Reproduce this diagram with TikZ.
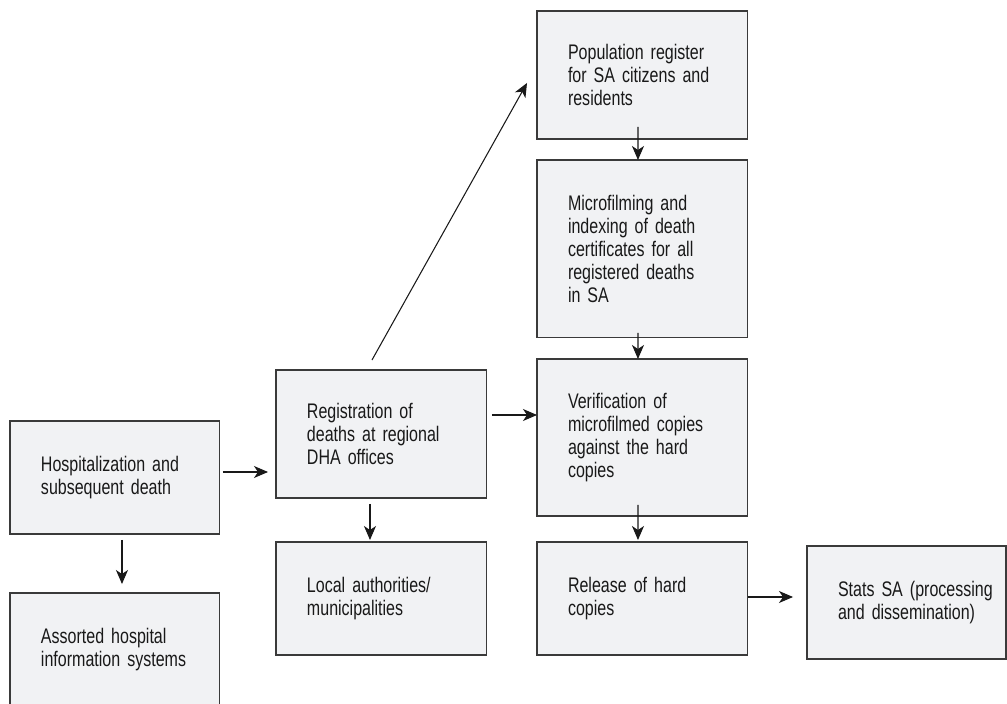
\documentclass[tikz,border=0pt]{standalone}
\usepackage{fontspec}
\setmainfont{Liberation Sans}[FakeStretch=0.76]
\usepackage{tikz}
\usetikzlibrary{arrows.meta}
\definecolor{boxfill}{HTML}{F1F2F4}
\definecolor{boxline}{HTML}{3A3A3A}
\tikzstyle{Stage}=[anchor=north west, shape=rectangle, fill=boxfill, draw=boxline, line width=0.6pt, inner xsep=0.62cm, inner ysep=0pt, outer sep=0pt, text width=2.98cm, align=left, minimum height=2.26cm, text=black!90, font=\fontsize{12pt}{13pt}\selectfont]
\tikzstyle{arrow}=[line width=0.6pt, draw=black!90, -{Stealth[length=0.28cm, width=0.24cm, inset=0.08cm]}]
\pgfdeclarelayer{nodelayer}
\pgfdeclarelayer{edgelayer}
\pgfsetlayers{nodelayer, edgelayer, main}

\begin{document}
\begin{tikzpicture}[x=0.02cm, y=-0.02cm]
	\useasboundingbox (0,0) rectangle (1007,703);
	\begin{pgfonlayer}{nodelayer}
		\node [style=Stage, text width=2.96cm] (hospital) at (10, 421) {Hospitalization and\\subsequent death};
		\node [style=Stage, text width=2.96cm] (assorted) at (10, 593) {Assorted hospital\\information systems};
		% regional offices
		\node [style=Stage, minimum height=2.56cm] (registration) at (276, 370) {Registration of\\deaths at regional\\DHA offices};
		\node [style=Stage] (local) at (276, 542) {Local authorities/\\municipalities};
		% head office
		\node [style=Stage, minimum height=2.56cm] (population) at (537, 11) {Population register\\for SA citizens and\\residents};
		\node [style=Stage, minimum height=3.56cm] (microfilm) at (537, 160) {Microfilming and\\indexing of death\\certificates for all\\registered deaths\\in SA};
		\node [style=Stage, minimum height=3.14cm] (verification) at (537, 359) {Verification of\\microfilmed copies\\against the hard\\copies};
		\node [style=Stage] (release) at (537, 542) {Release of hard\\copies};
		\node [style=Stage, text width=2.74cm] (stats) at (807, 546) {\mbox{Stats SA (processing}\\\mbox{and dissemination)}};
	\end{pgfonlayer}
	\begin{pgfonlayer}{edgelayer}
		\draw [style=arrow, shorten <=0.12cm, shorten >=0.18cm] ([xshift=0.14cm]hospital.south) to ([xshift=0.14cm]assorted.north);
		\draw [style=arrow, shorten <=0.06cm, shorten >=0.16cm] ([yshift=0.11cm]hospital.east) to ([yshift=0.11cm]hospital.east -| registration.west);
		\draw [style=arrow, shorten <=0.12cm, shorten >=0.04cm] ([xshift=-0.23cm]registration.south) to ([xshift=-0.23cm]local.north);
		\draw [style=arrow, shorten <=0.1cm] ([yshift=0.38cm]registration.east) to ([yshift=0.38cm]registration.east -| verification.west);
		\draw [style=arrow] ([shift={(-9.5,-10)}]registration.north) to ([shift={(-10,8)}]population.west);
		% down the chain
		\draw [style=arrow] ([shift={(-4.5,-12)}]population.south) to ([xshift=-0.09cm]microfilm.north);
		\draw [style=arrow] ([shift={(-4.5,-5)}]microfilm.south) to ([xshift=-0.09cm]verification.north);
		\draw [style=arrow, shorten >=0.04cm] ([shift={(-4.5,-11)}]verification.south) to ([xshift=-0.09cm]release.north);
		\draw [style=arrow, shorten >=0.28cm] ([yshift=0.03cm]release.east) to ([yshift=0.03cm]release.east -| stats.west);
	\end{pgfonlayer}
\end{tikzpicture}
\end{document}
